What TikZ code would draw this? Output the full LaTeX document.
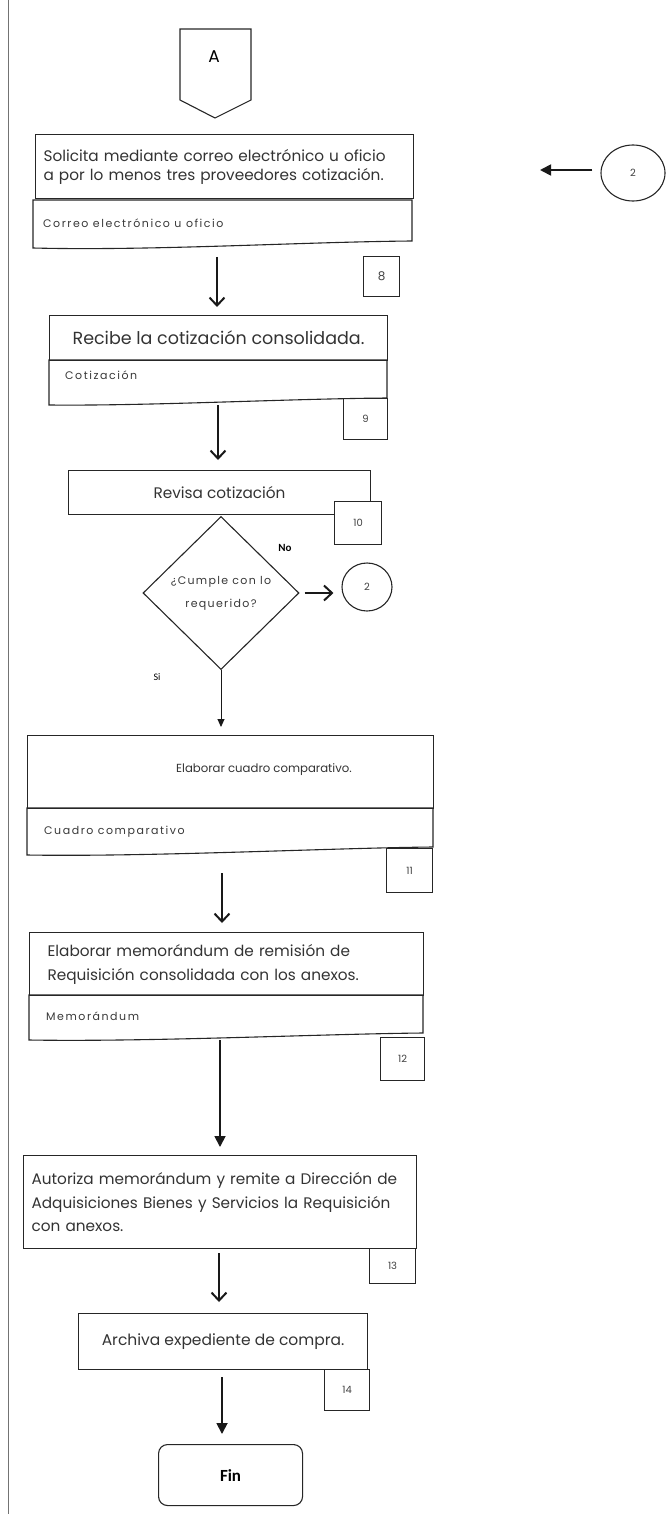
\documentclass[tikz,border=0pt]{standalone}
\usepackage{fontspec}
\setmainfont{Poppins}
\newfontfamily\carl{Carlito}
\usetikzlibrary{arrows.meta,shapes.geometric,calc}
\begin{document}
\begin{tikzpicture}[x=1pt,y=-1pt,
 line/.style={draw=black!85, line width=1.1pt},
 box/.style={line, rectangle, anchor=north west, inner sep=0pt},
 numbox/.style={line, rectangle, anchor=north west, inner sep=0pt, font=\fontsize{10}{11}\selectfont, text=black!75},
 body/.style={text=black!80, font=\fontsize{15.3}{24}\selectfont, inner sep=0pt},
 small/.style={text=black!78, font=\fontsize{11}{12}\selectfont\addfontfeature{LetterSpace=14}, inner sep=0pt, anchor=west},
 barb/.style={line width=2.2pt, draw=black!90, -{Straight Barb[length=8pt,width=15pt,line width=2pt]}},
 tri/.style={line width=1.8pt, draw=black!90, -{Triangle[length=11pt,width=11pt]}},
 thinarr/.style={line width=0.9pt, draw=black!90, -{Triangle[length=8pt,width=7pt]}},
 conn/.style={line, ellipse, inner sep=0pt, font=\fontsize{10}{10}\selectfont, text=black!75},
]
\useasboundingbox (0,0) rectangle (669,1514);
\draw[black!55, line width=0.8pt] (8,0) -- (8,1514);

% off-page connector A
\node[inner sep=0pt, font=\fontsize{17}{17}\selectfont] (A) at (214,57) {A};
\draw[line] (180,29) -- (251,29) -- (251,100) -- (215,118) -- (180,100) -- cycle;

% box 1
\node[box, minimum width=378, minimum height=64, text width=362, inner xsep=8pt, align=left, body,
      font=\fontsize{15.3}{19}\selectfont] (b1) at (35,134)
  {Solicita mediante correo electrónico u oficio\\a por lo menos tres proveedores cotización.};
\draw[line] (33,200) -- (412,200) -- (412,241) .. controls (300,242) and (150,251) .. (33,248) -- cycle;
\node[small] (b1d) at (43,223) {Correo electrónico u oficio};
\node[numbox, minimum width=36, minimum height=40, font=\fontsize{12}{12}\selectfont] (n8) at (363,256) {8};
\node[conn, minimum width=64, minimum height=56] (c1) at (633,173) {2};
\coordinate (c1end) at (540,170);
\draw[tri] (c1.west |- c1end) ++(-8,0) -- (c1end);

% box 2
\coordinate (a1) at (217,257);
\node[box, minimum width=338, minimum height=45, font=\fontsize{17.5}{20}\selectfont, text=black!80] (b2) at (49,315)
  {Recibe la cotización consolidada.};
\draw[barb, shorten >=8pt] (a1) -- (b2.north -| a1);
\draw[line] (49,360) -- (387,360) -- (387,398) .. controls (280,399) and (150,406) .. (49,405) -- cycle;
\node[small] (b2d) at (65,375) {Cotización};
\node[numbox, minimum width=44, minimum height=41] (n9) at (343,398) {9};

% box 3
\coordinate (a2) at (218,405);
\node[box, minimum width=302, minimum height=44, body] (b3) at (68,470) {Revisa cotización};
\draw[barb, shorten >=10pt] (a2) -- (b3.north -| a2);
\node[numbox, fill=white, minimum width=47, minimum height=43] (n10) at (334,501) {10};

% decision
\node[diamond, line, minimum width=156, minimum height=153, inner sep=0pt, align=center,
      text=black!78, font=\fontsize{11}{23}\selectfont\addfontfeature{LetterSpace=12}] (d) at (221,593) {¿Cumple con lo\\requerido?};
\node[conn, minimum width=50, minimum height=48] (c2) at (367,587) {2};
\draw[barb, shorten <=5pt, shorten >=8pt] (d.east) -- (c2.west |- d.east);
\node[font=\carl\bfseries\fontsize{11}{11}\selectfont, inner sep=0pt] (no) at (285,548) {No};
\node[font=\carl\fontsize{10}{10}\selectfont, inner sep=0pt] (si) at (157,677) {Si};

% box 4
\node[box, minimum width=406, minimum height=73] (b4) at (27,735) {};
\node[body, font=\fontsize{11.7}{14}\selectfont] (t4) at (264,770) {Elaborar cuadro comparativo.};
\draw[thinarr, shorten >=8pt] (d.south) -- (b4.north -| d.south);
\draw[line] (27,808) -- (433,808) -- (433,847) .. controls (330,848) and (150,857) .. (27,855) -- cycle;
\node[small] (b4d) at (44,832) {Cuadro comparativo};
\node[numbox, minimum width=46, minimum height=44] (n11) at (386,848) {11};

% box 5
\coordinate (a4) at (222,873);
\node[box, minimum width=394, minimum height=63, text width=376, inner xsep=9pt, align=left, body] (b5) at (29,932)
  {\hspace*{9pt}Elaborar memorándum de remisión de\\\hspace*{9pt}Requisición consolidada con los anexos.};
\draw[barb, shorten >=9pt] (a4) -- (b5.north -| a4);
\draw[line] (29,995) -- (423,995) -- (423,1033) .. controls (320,1034) and (150,1042) .. (29,1040) -- cycle;
\node[small] (b5d) at (46,1016) {Memorándum};
\node[numbox, minimum width=44, minimum height=43] (n12) at (380,1037) {12};

% box 6
\coordinate (a5) at (220,1040);
\node[box, minimum width=393, minimum height=93, text width=377, inner xsep=8pt, align=left, body,
      font=\fontsize{15.3}{23.5}\selectfont] (b6) at (23,1155)
  {Autoriza memorándum y remite a Dirección de\\Adquisiciones Bienes y Servicios la Requisición\\con anexos.};
\draw[tri, shorten >=8pt] (a5) -- (b6.north -| a5);
\node[numbox, minimum width=46, minimum height=35] (n13) at (369,1248) {13};

% box 7
\coordinate (a6) at (219,1253);
\node[box, minimum width=289, minimum height=56, body, font=\fontsize{15.5}{18}\selectfont] (b7) at (78,1313) {Archiva expediente de compra.};
\draw[barb, shorten >=11pt] (a6) -- (b7.north -| a6);
\node[numbox, minimum width=45, minimum height=41] (n14) at (324,1369) {14};

% end
\coordinate (a7) at (222,1377);
\node[line, rectangle, rounded corners=9pt, minimum width=144, minimum height=61, anchor=north west,
      font=\carl\bfseries\fontsize{17}{17}\selectfont] (fin) at (158,1444) {Fin};
\draw[tri, shorten >=10pt] (a7) -- (fin.north -| a7);
\end{tikzpicture}
\end{document}
